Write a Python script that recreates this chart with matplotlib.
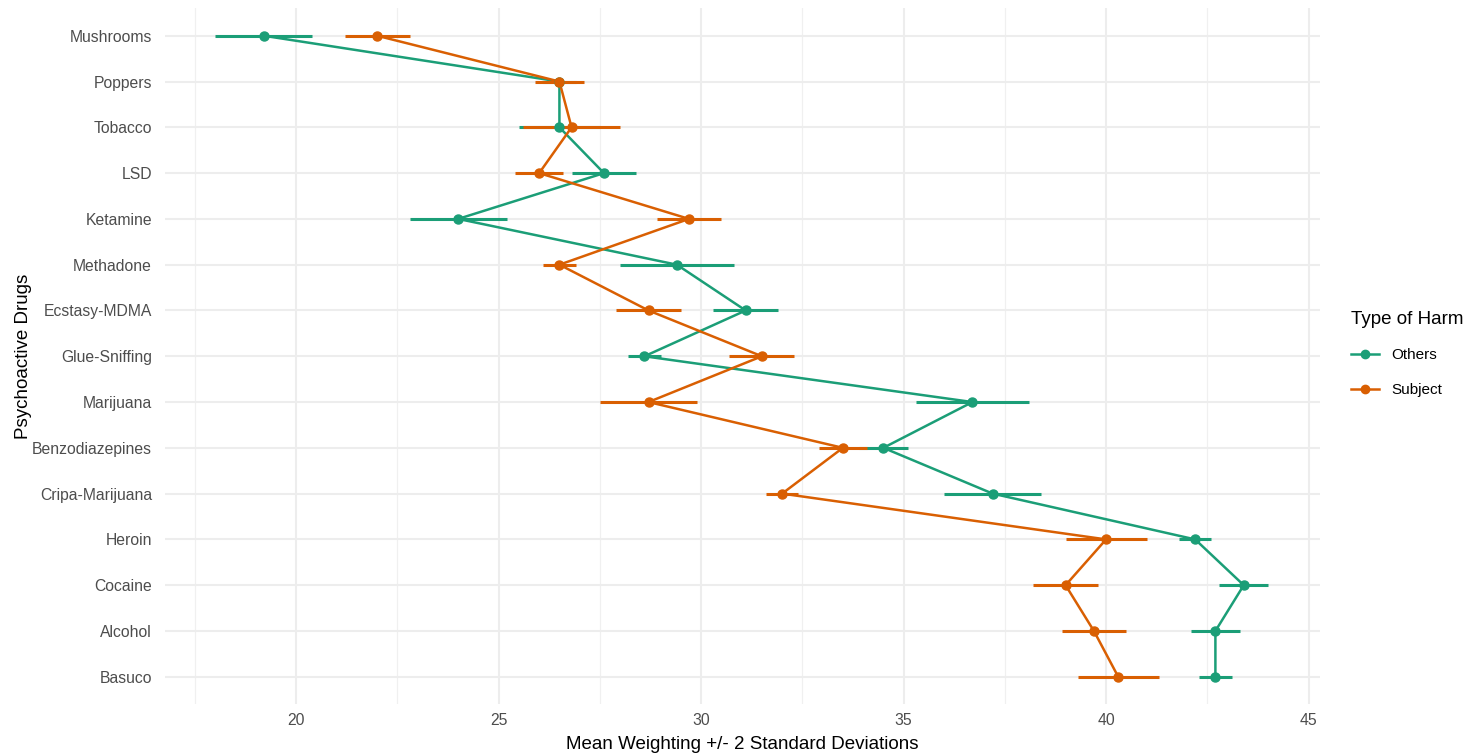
import matplotlib
matplotlib.use('Agg')
import matplotlib.pyplot as plt
from matplotlib.lines import Line2D
from matplotlib.ticker import MultipleLocator

plt.rcParams['font.family'] = ['Liberation Sans', 'DejaVu Sans']

# drugs, top to bottom
drugs = ['Mushrooms', 'Poppers', 'Tobacco', 'LSD', 'Ketamine', 'Methadone',
         'Ecstasy-MDMA', 'Glue-Sniffing', 'Marijuana', 'Benzodiazepines',
         'Cripa-Marijuana', 'Heroin', 'Cocaine', 'Alcohol', 'Basuco']

# harm to others: mean and +/- 2 sd limits
others_mean = [19.2, 26.5, 26.5, 27.6, 24.0, 29.4, 31.1, 28.6, 36.7, 34.5,
               37.2, 42.2, 43.4, 42.7, 42.7]
others_lo = [18.0, 26.1, 25.5, 26.8, 22.8, 28.0, 30.3, 28.2, 35.3, 33.9,
             36.0, 41.8, 42.8, 42.1, 42.3]
others_hi = [20.4, 26.9, 27.5, 28.4, 25.2, 30.8, 31.9, 29.0, 38.1, 35.1,
             38.4, 42.6, 44.0, 43.3, 43.1]

# harm to subject
subject_mean = [22.0, 26.5, 26.8, 26.0, 29.7, 26.5, 28.7, 31.5, 28.7, 33.5,
                32.0, 40.0, 39.0, 39.7, 40.3]
subject_lo = [21.2, 25.9, 25.6, 25.4, 28.9, 26.1, 27.9, 30.7, 27.5, 32.9,
              31.6, 39.0, 38.2, 38.9, 39.3]
subject_hi = [22.8, 27.1, 28.0, 26.6, 30.5, 26.9, 29.5, 32.3, 29.9, 34.1,
              32.4, 41.0, 39.8, 40.5, 41.3]

green = '#1B9E77'
orange = '#D95F02'

fig = plt.figure(figsize=(14.83, 7.54), dpi=100)
ax = fig.add_axes([0.111, 0.066, 0.779, 0.923])

ypos = list(range(len(drugs)))[::-1]

for mean, lo, hi, col in [(others_mean, others_lo, others_hi, green),
                          (subject_mean, subject_lo, subject_hi, orange)]:
    ax.plot(mean, ypos, color=col, lw=1.8, zorder=3)
    ax.hlines(ypos, lo, hi, color=col, lw=2.2, zorder=3)
    ax.plot(mean, ypos, 'o', color=col, ms=6.5, zorder=4)

ax.set_yticks(ypos)
ax.set_yticklabels(drugs)
ax.set_ylim(-0.6, len(drugs) - 0.4)
ax.set_xlim(16.75, 45.28)
ax.xaxis.set_minor_locator(MultipleLocator(2.5))
ax.set_xticks([20, 25, 30, 35, 40, 45])

ax.grid(True, which='major', color='#EDEDED', lw=1.5)
ax.grid(True, which='minor', axis='x', color='#F0F0F0', lw=0.9)
ax.set_axisbelow(True)
for s in ax.spines.values():
    s.set_visible(False)
ax.tick_params(which='both', length=0, labelsize=11.3, colors='#4D4D4D')
ax.tick_params(axis='y', pad=9)
ax.tick_params(axis='x', pad=6)

ax.set_xlabel('Mean Weighting +/- 2 Standard Deviations', fontsize=13.5, labelpad=6)
ax.set_ylabel('Psychoactive Drugs', fontsize=13.5)
ax.yaxis.set_label_coords(-0.115, 0.5)

handles = [Line2D([0], [0], color=green, lw=1.8, marker='o', ms=6),
           Line2D([0], [0], color=orange, lw=1.8, marker='o', ms=6)]
leg = fig.legend(handles, ['Others', 'Subject'], title='Type of Harm',
                 loc='center left', bbox_to_anchor=(0.902, 0.53), frameon=False,
                 fontsize=11, title_fontsize=13.5, handlelength=1.8,
                 labelspacing=1.4, alignment='left')
leg._legend_box.sep = 14

plt.savefig('out.png', dpi=100)
plt.close()
